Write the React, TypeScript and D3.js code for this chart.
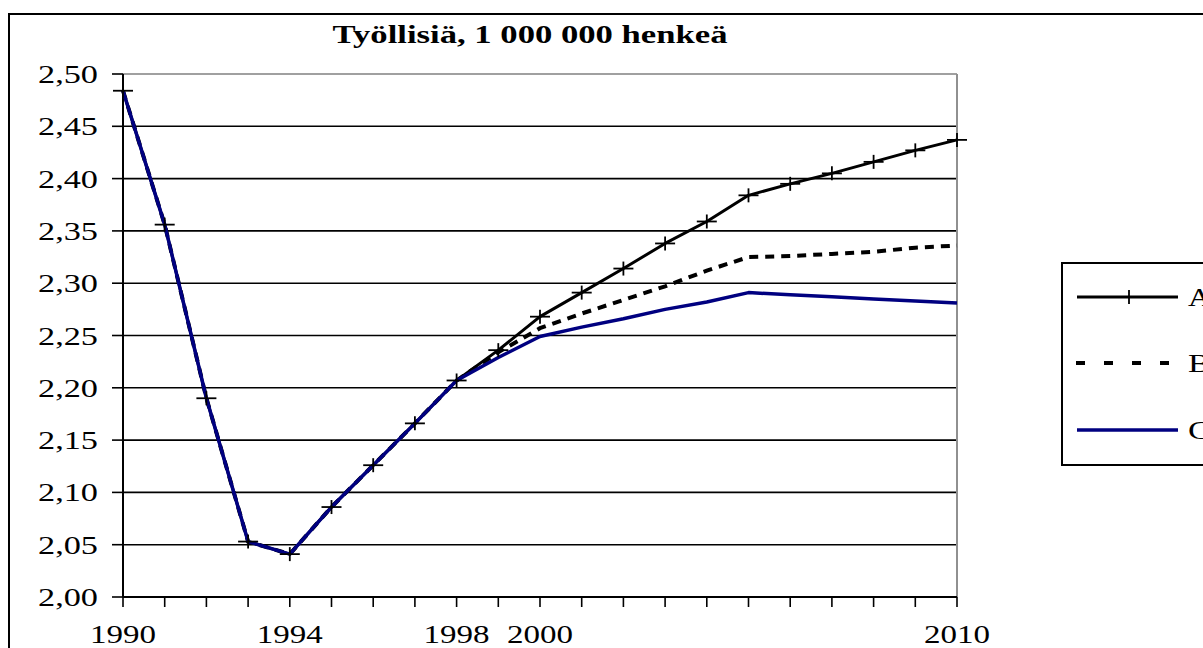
import React from "react";
import * as d3 from "d3";

const years = [1990,1991,1992,1993,1994,1995,1996,1997,1998,1999,2000,2001,2002,2003,2004,2005,2006,2007,2008,2009,2010];
const seriesA = [2.484,2.356,2.190,2.053,2.041,2.086,2.126,2.166,2.207,2.236,2.268,2.291,2.314,2.338,2.359,2.384,2.395,2.405,2.416,2.427,2.437];
const seriesB = [2.484,2.356,2.190,2.053,2.041,2.086,2.126,2.166,2.207,2.234,2.257,2.271,2.284,2.297,2.312,2.325,2.326,2.328,2.330,2.334,2.336];
const seriesC = [2.484,2.356,2.190,2.053,2.041,2.086,2.126,2.166,2.207,2.229,2.249,2.258,2.266,2.275,2.282,2.291,2.289,2.287,2.285,2.283,2.281];
const yTicks = [2.0,2.05,2.1,2.15,2.2,2.25,2.3,2.35,2.4,2.45,2.5];
const xLabels = [1990,1994,1998,2000,2010];
const seriesNames = ["A","B","C"];
const title = "Työllisiä, 1 000 000 henkeä";

export default function App() {
  const x = d3.scaleLinear().domain([1990, 2010]).range([123, 957]);
  const y = d3.scaleLinear().domain([2.0, 2.5]).range([597, 74]);
  const line = (vals: number[]) =>
    d3.line<number>().x((_, i) => x(years[i])).y((v) => y(v))(vals) || "";
  const fmt = (v: number) => v.toFixed(2).replace(".", ",");
  const serif = "Liberation Serif, serif";
  const legendY = [297, 363, 430];

  return (
    <svg width={1203} height={648} fontFamily={serif} style={{ position: "absolute", left: 0, top: 0, background: "#fff" }}>
      <rect x={0} y={0} width={1203} height={648} fill="#fff" />
      {/* outer chart frame */}
      <rect x={9} y={14} width={1250} height={700} fill="none" stroke="#000" strokeWidth={2} />
      {/* title */}
      <text x={530} y={43} textAnchor="middle" fontWeight="bold" fontSize={25} textLength={395}
        lengthAdjust="spacingAndGlyphs">{title}</text>
      {/* gridlines */}
      {yTicks.map((t) => (
        <line key={t} x1={x(1990)} x2={x(2010)} y1={y(t)} y2={y(t)}
          stroke={t === 2.5 ? "#808080" : "#000"} strokeWidth={1.6} />
      ))}
      {/* plot right border */}
      <line x1={x(2010)} x2={x(2010)} y1={y(2.5)} y2={y(2.0)} stroke="#909090" strokeWidth={2} />
      {/* y axis */}
      <line x1={x(1990)} x2={x(1990)} y1={y(2.5)} y2={y(2.0)} stroke="#000" strokeWidth={2} />
      {yTicks.map((t) => (
        <g key={"yt" + t}>
          <line x1={x(1990) - 11} x2={x(1990)} y1={y(t)} y2={y(t)} stroke="#000" strokeWidth={1.6} />
          <text x={98} y={y(t) + 9} textAnchor="end" fontSize={26} textLength={60}
            lengthAdjust="spacingAndGlyphs">{fmt(t)}</text>
        </g>
      ))}
      {/* x axis */}
      <line x1={x(1990)} x2={x(2010)} y1={y(2.0)} y2={y(2.0)} stroke="#000" strokeWidth={2} />
      {years.map((yr) => (
        <line key={"xt" + yr} x1={x(yr)} x2={x(yr)} y1={y(2.0)} y2={y(2.0) + 10} stroke="#000" strokeWidth={1.6} />
      ))}
      {xLabels.map((yr) => (
        <text key={"xl" + yr} x={x(yr)} y={643} textAnchor="middle" fontSize={25} textLength={66}
          lengthAdjust="spacingAndGlyphs">{yr}</text>
      ))}
      {/* series */}
      <path d={line(seriesA)} fill="none" stroke="#000" strokeWidth={3} strokeLinejoin="round" />
      <path d={line(seriesB)} fill="none" stroke="#000" strokeWidth={4} strokeDasharray="9,7" />
      <path d={line(seriesC)} fill="none" stroke="#000080" strokeWidth={3.5} strokeLinejoin="round" />
      {seriesA.map((v, i) => (
        <g key={"m" + i} stroke="#000" strokeWidth={1.8}>
          <line x1={x(years[i]) - 10} x2={x(years[i]) + 10} y1={y(v)} y2={y(v)} />
          <line x1={x(years[i])} x2={x(years[i])} y1={y(v) - 7} y2={y(v) + 7} />
        </g>
      ))}
      {/* legend */}
      <rect x={1062} y={263} width={200} height={202} fill="#fff" stroke="#000" strokeWidth={2} />
      <line x1={1077} x2={1178} y1={legendY[0]} y2={legendY[0]} stroke="#000" strokeWidth={3} />
      <g stroke="#000" strokeWidth={1.8}>
        <line x1={1119} x2={1139} y1={legendY[0]} y2={legendY[0]} />
        <line x1={1129} x2={1129} y1={legendY[0] - 7} y2={legendY[0] + 7} />
      </g>
      <line x1={1076} x2={1172} y1={legendY[1]} y2={legendY[1]} stroke="#000" strokeWidth={4} strokeDasharray="9,19" />
      <line x1={1077} x2={1178} y1={legendY[2]} y2={legendY[2]} stroke="#000080" strokeWidth={3.5} />
      {seriesNames.map((n, i) => (
        <text key={n} x={1188} y={legendY[i] + 9} fontSize={26} textLength={23}
          lengthAdjust="spacingAndGlyphs">{n}</text>
      ))}
    </svg>
  );
}
